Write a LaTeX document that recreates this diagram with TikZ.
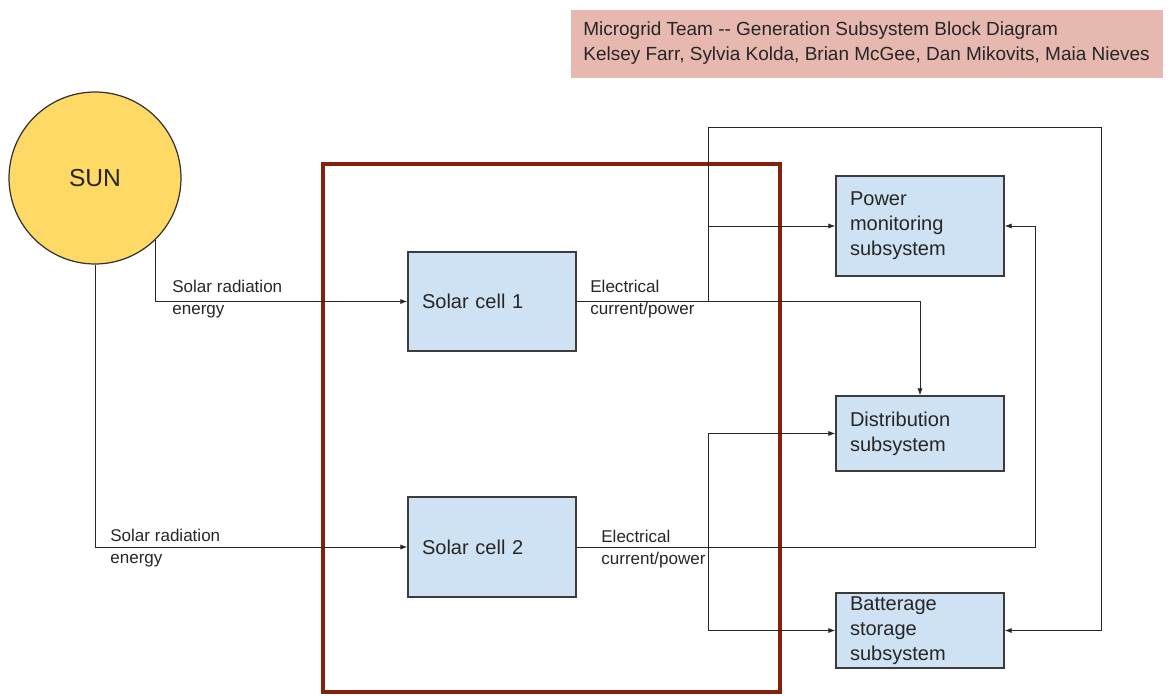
\documentclass[tikz,border=0pt]{standalone}
\usepackage{fontspec}
\setmainfont{Liberation Sans}
\usetikzlibrary{arrows.meta, positioning}

\definecolor{cellblue}{HTML}{CFE2F3}
\definecolor{sunyellow}{HTML}{FFD966}
\definecolor{titlepink}{HTML}{E6B8AF}
\definecolor{genred}{HTML}{85200C}
\definecolor{edgegray}{HTML}{3C3C3C}

\begin{document}
\begin{tikzpicture}[
    x=0.02cm, y=-0.02cm,
    every node/.style={font=\fontsize{11.4}{14.2}\selectfont, text=black!85},
    block/.style={draw=edgegray, line width=0.8pt, fill=cellblue, minimum width=3.36cm, text width=2.8cm,
      inner xsep=0.28cm, inner ysep=0pt, align=left},
    sunnode/.style={circle, draw=black!80, line width=0.7pt, fill=sunyellow, minimum size=3.44cm,
      font=\fontsize{14}{16}\selectfont},
    flabel/.style={font=\fontsize{9.7}{12.5}\selectfont, align=left, inner sep=0pt, anchor=west},
    arr/.style={-{Latex[length=4pt, width=3pt]}, line width=0.55pt, draw=black!85}
  ]
  \useasboundingbox (0,0) rectangle (1173,696);

  % --- Title ---
  \node[fill=titlepink, minimum width=11.84cm, minimum height=1.36cm, inner sep=0pt] (title) at (867,44) {};
  \node[anchor=west, align=left, inner sep=0pt, font=\fontsize{10.8}{14.2}\selectfont] (titletext) at (583,43)
    {Microgrid Team {-}{-} Generation Subsystem Block Diagram\\Kelsey Farr, Sylvia Kolda, Brian McGee, Dan Mikovits, Maia Nieves};

  % --- Generation subsystem frame ---
  \draw[genred, line width=2.8pt] (323,164) rectangle (780,692);

  % --- Source ---
  \node[sunnode] (sun) at (95,178) {SUN};

  % --- Solar cells ---
  \node[block, minimum height=1.98cm] (cell1) at (492,301.5) {Solar cell 1};
  \node[block, minimum height=2cm] (cell2) at (492,547) {Solar cell 2};

  % --- Loads ---
  \node[block, minimum height=2cm] (power) at (920,226) {Power\\monitoring\\subsystem};
  \node[block, minimum height=1.5cm] (dist) at (920,433.5) {Distribution\\subsystem};
  \node[block, minimum height=1.5cm] (batt) at (920,630.5) {Batterage\\storage\\subsystem};

  % --- Routing points ---
  \coordinate (looptl) at (708,127);
  \coordinate (looptr) at (1101,127);
  \coordinate (split2) at (708,547);
  \coordinate (ret2) at (1035,547);

  % --- Arrows ---
  \draw[arr] (sun.-46) |- (cell1.west);
  \draw[arr] (sun.south) |- (cell2.west);
  \draw[arr] (cell1.east) -| (looptl) -- (looptr) |- (batt.east);
  \draw[arr] (looptl |- power.west) -- (power.west);
  \draw[arr] (cell1.east) -| (dist.north);
  \draw[arr] (cell2.east) -- (ret2) |- (power.east);
  \draw[arr] (split2) |- (dist.west);
  \draw[arr] (split2) |- (batt.west);

  % --- Flow labels ---
  \node[flabel] (rad1) at (172,299) {Solar radiation\\energy};
  \node[flabel] (rad2) at (110,548.5) {Solar radiation\\energy};
  \node[flabel] (elec1) at (590,299) {Electrical\\current/power};
  \node[flabel] (elec2) at (601,549) {Electrical\\current/power};

\end{tikzpicture}
\end{document}
